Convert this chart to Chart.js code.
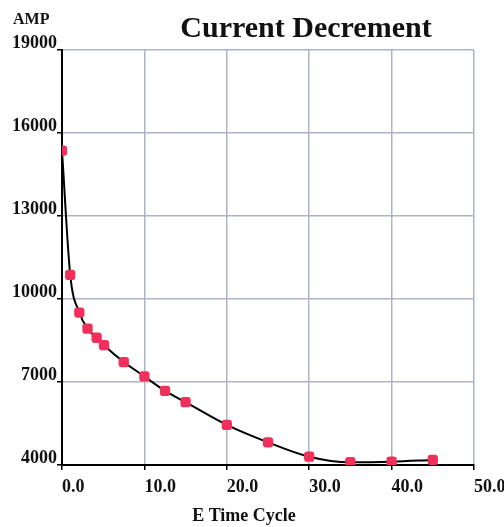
<!DOCTYPE html>
<html>
<head>
<meta charset="utf-8">
<script src="https://cdn.jsdelivr.net/npm/chart.js@4"></script>
<style>
  html, body { margin: 0; padding: 0; background: #fff; }
  #wrap { width: 504px; height: 527px; }
</style>
</head>
<body>
<div id="wrap"><canvas id="decChart" width="504" height="527"></canvas></div>
<script>
// Current decrement readings
const timeCycle = [0, 1.0, 2.1, 3.1, 4.2, 5.1, 7.5, 10.0, 12.5, 15.0, 20.0, 25.0, 30.0, 35.0, 40.0, 45.0];
const amps = [15360, 10870, 9510, 8930, 8600, 8330, 7720, 7200, 6680, 6270, 5450, 4820, 4300, 4100, 4120, 4180];

const ampTicks = [4000, 7000, 10000, 13000, 16000, 19000];
const cycleTicks = [0, 10, 20, 30, 40, 50];

const SERIF = '"Liberation Serif", "Times New Roman", serif';
const gridColor = '#adb4c8';

// title, y caption and x caption drawn straight on the canvas
const captions = {
    id: 'captions',
    afterDraw(chart) {
        const ctx = chart.ctx;
        ctx.save();
        ctx.fillStyle = '#111';
        ctx.textBaseline = 'alphabetic';

        ctx.font = 'bold 30px ' + SERIF;
        ctx.textAlign = 'center';
        ctx.fillText('Current Decrement', 306, 37);

        ctx.font = 'bold 16px ' + SERIF;
        ctx.textAlign = 'left';
        ctx.fillText('AMP', 13, 24);

        ctx.font = 'bold 18px ' + SERIF;
        ctx.textAlign = 'center';
        ctx.fillText('E Time Cycle', 244, 521);
        ctx.restore();
    }
};

new Chart(document.getElementById('decChart'), {
    type: 'scatter',
    data: {
        datasets: [{
            data: timeCycle.map((x, i) => ({ x: x, y: amps[i] })),
            showLine: true,
            borderColor: '#000',
            borderWidth: 2,
            cubicInterpolationMode: 'monotone',
            pointStyle: 'rectRounded',
            pointRadius: 6,
            pointBackgroundColor: '#f0305a',
            pointBorderColor: '#f0305a',
            pointBorderWidth: 0
        }]
    },
    options: {
        responsive: false,
        animation: false,
        layout: { padding: { top: 50, right: 30, left: 0, bottom: 0 } },
        plugins: {
            legend: { display: false },
            tooltip: { enabled: false }
        },
        scales: {
            x: {
                type: 'linear',
                min: 0,
                max: 50,
                afterBuildTicks: s => { s.ticks = cycleTicks.map(v => ({ value: v })); },
                afterFit: s => { s.height = 62; s.paddingRight = 0; s.paddingLeft = 0; },
                grid: { color: gridColor, lineWidth: 1.5, tickColor: '#000', tickLength: 5, tickWidth: 1.5 },
                border: { color: '#000', width: 2 },
                ticks: {
                    align: 'start',
                    padding: 7,
                    maxRotation: 0,
                    color: '#111',
                    font: { family: SERIF, size: 18, weight: 'bold' },
                    callback: v => Number(v).toFixed(1)
                }
            },
            y: {
                type: 'linear',
                min: 4000,
                max: 19000,
                afterBuildTicks: s => { s.ticks = ampTicks.map(v => ({ value: v })); },
                afterFit: s => { s.width = 62; },
                grid: { color: gridColor, lineWidth: 1.5, tickColor: '#000', tickLength: 5, tickWidth: 1.5 },
                border: { color: '#000', width: 2 },
                ticks: {
                    padding: 0,
                    labelOffset: -7,
                    color: '#111',
                    font: { family: SERIF, size: 18, weight: 'bold' },
                    callback: v => String(v)
                }
            }
        }
    },
    plugins: [captions]
});
</script>
</body>
</html>
